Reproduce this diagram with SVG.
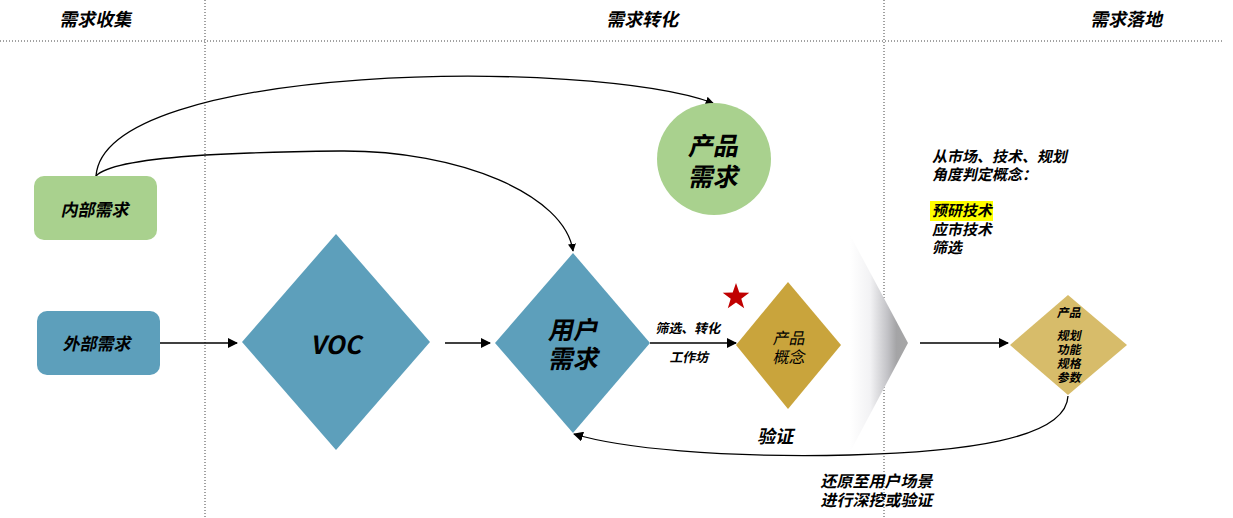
<svg xmlns="http://www.w3.org/2000/svg" width="1233" height="518" viewBox="0 0 1233 518">
<style>
.t{font-family:"Noto Sans CJK SC","Liberation Sans",sans-serif;fill:#000;text-anchor:middle;dominant-baseline:central}
.b{font-weight:bold}
.lt{font-family:"Noto Sans CJK SC","Liberation Sans",sans-serif;font-weight:bold;fill:#000;font-size:15px}
.dot{stroke:#444;stroke-width:1;stroke-dasharray:1 2;fill:none}
.ln{stroke:#000;stroke-width:1.3;fill:none}
.blue{fill:#5d9fbb}
.green{fill:#a9d18e}
</style>
<defs>
<marker id="ah" viewBox="0 0 10 10" refX="9" refY="5" markerWidth="10" markerHeight="10" markerUnits="userSpaceOnUse" orient="auto">
<path d="M0,0 L10,5 L0,10 Z" fill="#000"/>
</marker>
<marker id="as" viewBox="0 0 10 10" refX="9" refY="5" markerWidth="8" markerHeight="8" markerUnits="userSpaceOnUse" orient="auto">
<path d="M0,0 L10,5 L0,10 Z" fill="#000"/>
</marker>
<linearGradient id="gch" x1="0" y1="0" x2="1" y2="0">
<stop offset="0" stop-color="#ffffff"/>
<stop offset="0.35" stop-color="#f2f2f4"/>
<stop offset="0.65" stop-color="#c2c2c6"/>
<stop offset="0.8" stop-color="#a4a4a6"/>
<stop offset="1" stop-color="#a6a6a6"/>
</linearGradient>
</defs>

<g id="grid">
<line class="dot" x1="0" y1="41" x2="1222" y2="41"/>
<line class="dot" x1="205" y1="0" x2="205" y2="518"/>
<line class="dot" x1="884" y1="0" x2="884" y2="518"/>
</g>

<g id="headers">
<text class="t b" transform="translate(97 18) skewX(-12)" font-size="18">需求收集</text>
<text class="t b" transform="translate(644 18) skewX(-12)" font-size="18">需求转化</text>
<text class="t b" transform="translate(1128 18) skewX(-12)" font-size="18">需求落地</text>
</g>

<g id="chevron">
<polygon points="850,235 908,343 850,452" fill="url(#gch)"/>
</g>

<g id="connectors">
<path class="ln" d="M96,176 C105,62 590,58 713,103" marker-end="url(#as)"/>
<path class="ln" d="M96,176 C115,155 250,152 340,151 C460,150 565,195 573,251" marker-end="url(#as)"/>
<line class="ln" x1="160" y1="343" x2="237" y2="343" marker-end="url(#ah)"/>
<line class="ln" x1="445" y1="343" x2="490" y2="343" marker-end="url(#ah)"/>
<line class="ln" x1="650" y1="343" x2="736" y2="343" marker-end="url(#ah)"/>
<line class="ln" x1="920" y1="343" x2="1008" y2="343" marker-end="url(#ah)"/>
<path class="ln" d="M1068,396 C1066,440 960,452 850,455 C720,458 620,448 574,434" marker-end="url(#ah)"/>
</g>

<g id="internal">
<rect x="34" y="176" width="123" height="64" rx="10" class="green"/>
<text class="t b" transform="translate(96 209) skewX(-12)" font-size="17">内部需求</text>
</g>

<g id="external">
<rect x="37" y="311" width="123" height="64" rx="10" class="blue"/>
<text class="t b" transform="translate(98 343) skewX(-12)" font-size="17">外部需求</text>
</g>

<g id="voc">
<polygon points="336,234 430,342 336,450 242,342" class="blue"/>
<text class="t b" transform="translate(338 343) skewX(-12)" font-size="25">VOC</text>
</g>

<g id="product-req">
<ellipse cx="714" cy="159" rx="57" ry="56" class="green"/>
<text class="t b" transform="translate(715 144) skewX(-12)" font-size="25">产品</text>
<text class="t b" transform="translate(715 175) skewX(-12)" font-size="25">需求</text>
</g>

<g id="user-req">
<polygon points="573,253 650,343 573,433 495,343" class="blue"/>
<text class="t b" transform="translate(575 328) skewX(-12)" font-size="25">用户</text>
<text class="t b" transform="translate(575 357) skewX(-12)" font-size="25">需求</text>
</g>

<g id="edge-labels">
<text class="t b" transform="translate(689 328) skewX(-12)" font-size="13">筛选、转化</text>
<text class="t b" transform="translate(690 357) skewX(-12)" font-size="13">工作坊</text>
<text class="t b" transform="translate(777 435) skewX(-12)" font-size="18">验证</text>
<text class="t b" transform="translate(878 480) skewX(-12)" font-size="16">还原至用户场景</text>
<text class="t b" transform="translate(878 499) skewX(-12)" font-size="16">进行深挖或验证</text>
</g>

<g id="star">
<polygon points="736,283 739.3,292.5 749.3,292.7 741.3,298.7 744.2,308.3 736,302.5 727.8,308.3 730.7,298.7 722.7,292.7 732.7,292.5" fill="#c00000"/>
</g>

<g id="concept">
<polygon points="788,282 841,345 788,409 736,345" fill="#c9a43c"/>
<text class="t" transform="translate(790 337) skewX(-12)" font-size="16">产品</text>
<text class="t" transform="translate(790 356) skewX(-12)" font-size="16">概念</text>
</g>

<g id="criteria">
<rect x="930" y="201" width="63" height="20" fill="#ffff00"/>
<text class="lt" transform="translate(932 162) skewX(-12)">从市场、技术、规划</text>
<text class="lt" transform="translate(932 180) skewX(-12)">角度判定概念：</text>
<text class="lt" transform="translate(932 216) skewX(-12)">预研技术</text>
<text class="lt" transform="translate(932 235) skewX(-12)">应市技术</text>
<text class="lt" transform="translate(932 253) skewX(-12)">筛选</text>
</g>

<g id="product">
<polygon points="1068,295 1127,345 1068,395 1010,345" fill="#d7bc6a"/>
<text class="t b" transform="translate(1070 312) skewX(-12)" font-size="12">产品</text>
<text class="t b" transform="translate(1070 335) skewX(-12)" font-size="12">规划</text>
<text class="t b" transform="translate(1070 349) skewX(-12)" font-size="12">功能</text>
<text class="t b" transform="translate(1070 363) skewX(-12)" font-size="12">规格</text>
<text class="t b" transform="translate(1070 377) skewX(-12)" font-size="12">参数</text>
</g>
</svg>
